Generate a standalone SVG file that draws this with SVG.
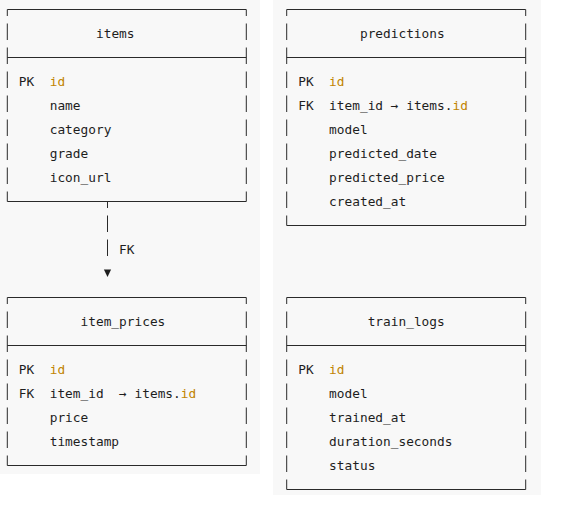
<svg xmlns="http://www.w3.org/2000/svg" width="572" height="515" viewBox="0 0 572 515">
<style>
.bg{fill:#f8f8f8}
.t{font-family:"DejaVu Sans Mono","Liberation Mono",monospace;font-size:12.8px;fill:#1e1e1e}
.k{fill:#c18401}
.h{stroke:#2a2a2a;stroke-width:1;fill:none}
.v{stroke:#2a2a2a;stroke-width:1;fill:none;stroke-dasharray:16.5 7.5;stroke-dashoffset:10}
</style>
<defs>
<marker id="tri" markerUnits="userSpaceOnUse" markerWidth="1" markerHeight="1" refX="0" refY="0" orient="auto" overflow="visible">
<path d="M13.5,-3.6 L13.5,3.6 L21,0 Z" fill="#1e1e1e"/>
</marker>
</defs>
<rect class="bg" x="0" y="0" width="260" height="474"/>
<rect class="bg" x="273" y="0" width="268" height="495"/>

<g id="items">
<path class="h" d="M7.3,9.5 H246.3 M7.3,57.5 H246.3 M7.3,201.5 H246.3"/>
<path class="v" d="M7.3,9.5 V201.5 M246.3,9.5 V201.5"/>
<text class="t" x="95.97" y="38">items</text>
<text class="t" x="18.87" y="86">PK</text>
<text class="t k" x="49.71" y="86">id</text>
<text class="t" x="49.71" y="110">name</text>
<text class="t" x="49.71" y="134">category</text>
<text class="t" x="49.71" y="158">grade</text>
<text class="t" x="49.71" y="182">icon_url</text>
</g>

<g id="item_prices">
<path class="h" d="M7.3,297.5 H246.3 M7.3,345.5 H246.3 M7.3,465.5 H246.3"/>
<path class="v" d="M7.3,297.5 V465.5 M246.3,297.5 V465.5"/>
<text class="t" x="80.55" y="326">item_prices</text>
<text class="t" x="18.87" y="374">PK</text>
<text class="t k" x="49.71" y="374">id</text>
<text class="t" x="18.87" y="398">FK</text>
<text class="t" x="49.71" y="398">item_id</text>
<text class="t" x="119.1" y="398">→</text>
<text class="t" x="134.52" y="398">items.</text>
<text class="t k" x="180.78" y="398">id</text>
<text class="t" x="49.71" y="422">price</text>
<text class="t" x="49.71" y="446">timestamp</text>
</g>

<g id="predictions">
<path class="h" d="M286.7,9.5 H525.7 M286.7,57.5 H525.7 M286.7,225.5 H525.7"/>
<path class="v" d="M286.7,9.5 V225.5 M525.7,9.5 V225.5"/>
<text class="t" x="359.95" y="38">predictions</text>
<text class="t" x="298.27" y="86">PK</text>
<text class="t k" x="329.11" y="86">id</text>
<text class="t" x="298.27" y="110">FK</text>
<text class="t" x="329.11" y="110">item_id</text>
<text class="t" x="390.79" y="110">→</text>
<text class="t" x="406.21" y="110">items.</text>
<text class="t k" x="452.47" y="110">id</text>
<text class="t" x="329.11" y="134">model</text>
<text class="t" x="329.11" y="158">predicted_date</text>
<text class="t" x="329.11" y="182">predicted_price</text>
<text class="t" x="329.11" y="206">created_at</text>
</g>

<g id="train_logs">
<path class="h" d="M286.7,297.5 H525.7 M286.7,345.5 H525.7 M286.7,489.5 H525.7"/>
<path class="v" d="M286.7,297.5 V489.5 M525.7,297.5 V489.5"/>
<text class="t" x="367.66" y="326">train_logs</text>
<text class="t" x="298.27" y="374">PK</text>
<text class="t k" x="329.11" y="374">id</text>
<text class="t" x="329.11" y="398">model</text>
<text class="t" x="329.11" y="422">trained_at</text>
<text class="t" x="329.11" y="446">duration_seconds</text>
<text class="t" x="329.11" y="470">status</text>
</g>

<g id="connectors">
<path class="v" d="M107.5,201.5 V256" marker-end="url(#tri)"/>
<text class="t" x="119.1" y="254">FK</text>
</g>
</svg>
